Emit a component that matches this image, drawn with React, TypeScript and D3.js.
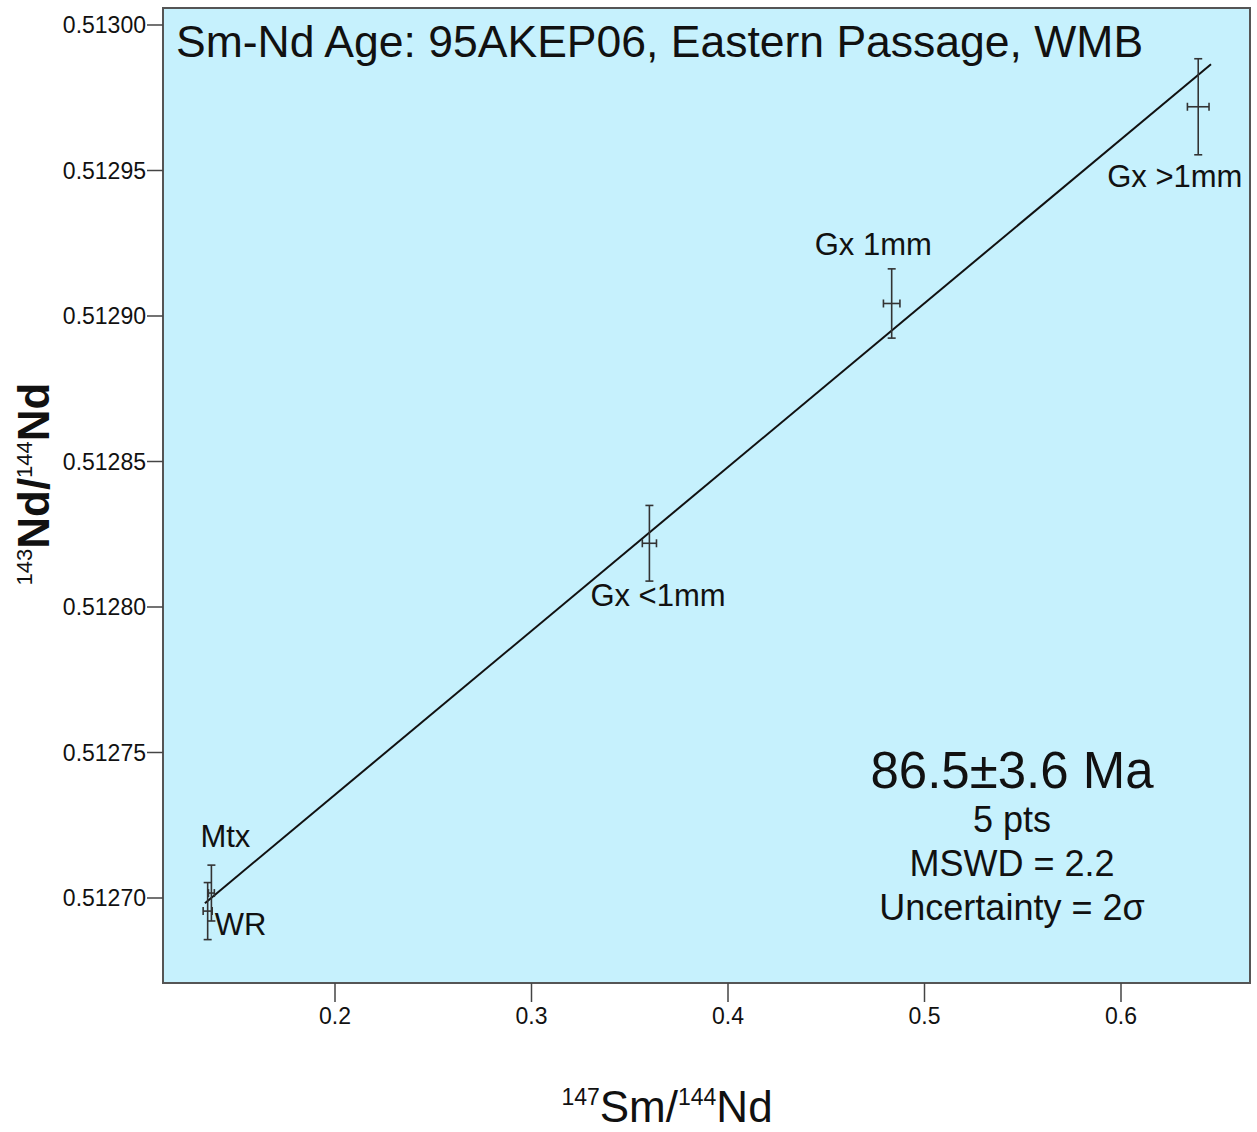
import React from "react";
import * as d3 from "d3";

const sampleNames = ["WR", "Mtx", "Gx <1mm", "Gx 1mm", "Gx >1mm"];
const smNd = [0.1352, 0.1371, 0.3600, 0.4833, 0.6393];
const smNdErr = [0.0023, 0.0015, 0.0036, 0.0042, 0.0055];
const ndNd = [0.5126955, 0.5127017, 0.5128219, 0.5129043, 0.5129719];
const ndNdErr = [0.0000098, 0.0000096, 0.0000130, 0.0000119, 0.0000165];

const lineX = [0.1338, 0.6458];
const lineIntercept = 0.5126229;
const lineSlope = 0.000563;

const xTicks = [0.2, 0.3, 0.4, 0.5, 0.6];
const yTicks = [0.5127, 0.51275, 0.5128, 0.51285, 0.5129, 0.51295, 0.513];

const titleText = "Sm-Nd Age: 95AKEP06, Eastern Passage, WMB";
const statLines = ["5 pts", "MSWD = 2.2", "Uncertainty = 2σ"];
const ageText = "86.5±3.6 Ma";

// label offsets (px) relative to each point
const labelOffsets: [number, number][] = [
  [7, 24],
  [-11, -46],
  [-59, 63],
  [-77, -48],
  [-91, 80],
];

const W = 1257;
const H = 1132;
const L = 163, R = 1250, T = 8, B = 983;

export default function App() {
  const x = d3.scaleLinear().domain([0.112468, 0.665649]).range([L, R]);
  const y = d3.scaleLinear().domain([0.51267079, 0.51300584]).range([B, T]);
  const font = "Liberation Sans, Arial, sans-serif";
  const line = d3
    .line<number>()
    .x((d) => x(d))
    .y((d) => y(lineIntercept + lineSlope * d));
  const cap = 4;
  const errColor = "#333";
  return (
    <svg
      width={W}
      height={H}
      style={{ position: "absolute", left: 0, top: 0, background: "#fff" }}
      fontFamily={font}
    >
      <rect x={L} y={T} width={R - L} height={B - T} fill="#c6f1fd" stroke="#555" strokeWidth={2} />
      {yTicks.map((t) => (
        <g key={"y" + t}>
          <line x1={L - 16} x2={L} y1={y(t)} y2={y(t)} stroke="#444" strokeWidth={1.5} />
          <text x={L - 17} y={y(t)} dy="0.35em" textAnchor="end" fontSize={23} fill="#111">
            {d3.format(".5f")(t)}
          </text>
        </g>
      ))}
      {xTicks.map((t) => (
        <g key={"x" + t}>
          <line x1={x(t)} x2={x(t)} y1={B} y2={B + 19} stroke="#444" strokeWidth={1.5} />
          <text x={x(t)} y={1024} textAnchor="middle" fontSize={23} fill="#111">
            {d3.format(".1f")(t)}
          </text>
        </g>
      ))}
      <path d={line(lineX) || ""} fill="none" stroke="#111" strokeWidth={2} />
      {sampleNames.map((n, i) => {
        const cx = x(smNd[i]);
        const cy = y(ndNd[i]);
        const y1 = y(ndNd[i] + ndNdErr[i]);
        const y2 = y(ndNd[i] - ndNdErr[i]);
        const x1 = x(smNd[i] - smNdErr[i]);
        const x2 = x(smNd[i] + smNdErr[i]);
        return (
          <g key={n} stroke={errColor} strokeWidth={1.6}>
            <line x1={cx} x2={cx} y1={y1} y2={y2} />
            <line x1={cx - cap} x2={cx + cap} y1={y1} y2={y1} />
            <line x1={cx - cap} x2={cx + cap} y1={y2} y2={y2} />
            <line x1={x1} x2={x2} y1={cy} y2={cy} />
            <line x1={x1} x2={x1} y1={cy - cap} y2={cy + cap} />
            <line x1={x2} x2={x2} y1={cy - cap} y2={cy + cap} />
          </g>
        );
      })}
      {sampleNames.map((n, i) => (
        <text
          key={"l" + n}
          x={x(smNd[i]) + labelOffsets[i][0]}
          y={y(ndNd[i]) + labelOffsets[i][1]}
          fontSize={31}
          fill="#111"
        >
          {n}
        </text>
      ))}
      <text x={176} y={57} fontSize={44.5} fill="#111">
        {titleText}
      </text>
      <text x={1012} y={788} textAnchor="middle" fontSize={51} fill="#111">
        {ageText}
      </text>
      {statLines.map((s, i) => (
        <text key={s} x={1012} y={832 + i * 44} textAnchor="middle" fontSize={36} fill="#111">
          {s}
        </text>
      ))}
      <text x={667} y={1122} textAnchor="middle" fontSize={44} fill="#111">
        <tspan fontSize={23} dy={-17}>147</tspan>
        <tspan dy={17}>Sm/</tspan>
        <tspan fontSize={23} dy={-17}>144</tspan>
        <tspan dy={17}>Nd</tspan>
      </text>
      <text
        transform={`translate(49,484) rotate(-90)`}
        textAnchor="middle"
        fontSize={44}
        fontWeight="bold"
        fill="#111"
      >
        <tspan fontSize={22} dy={-17} fontWeight="normal">143</tspan>
        <tspan dy={17}>Nd/</tspan>
        <tspan fontSize={22} dy={-17} fontWeight="normal">144</tspan>
        <tspan dy={17}>Nd</tspan>
      </text>
    </svg>
  );
}
